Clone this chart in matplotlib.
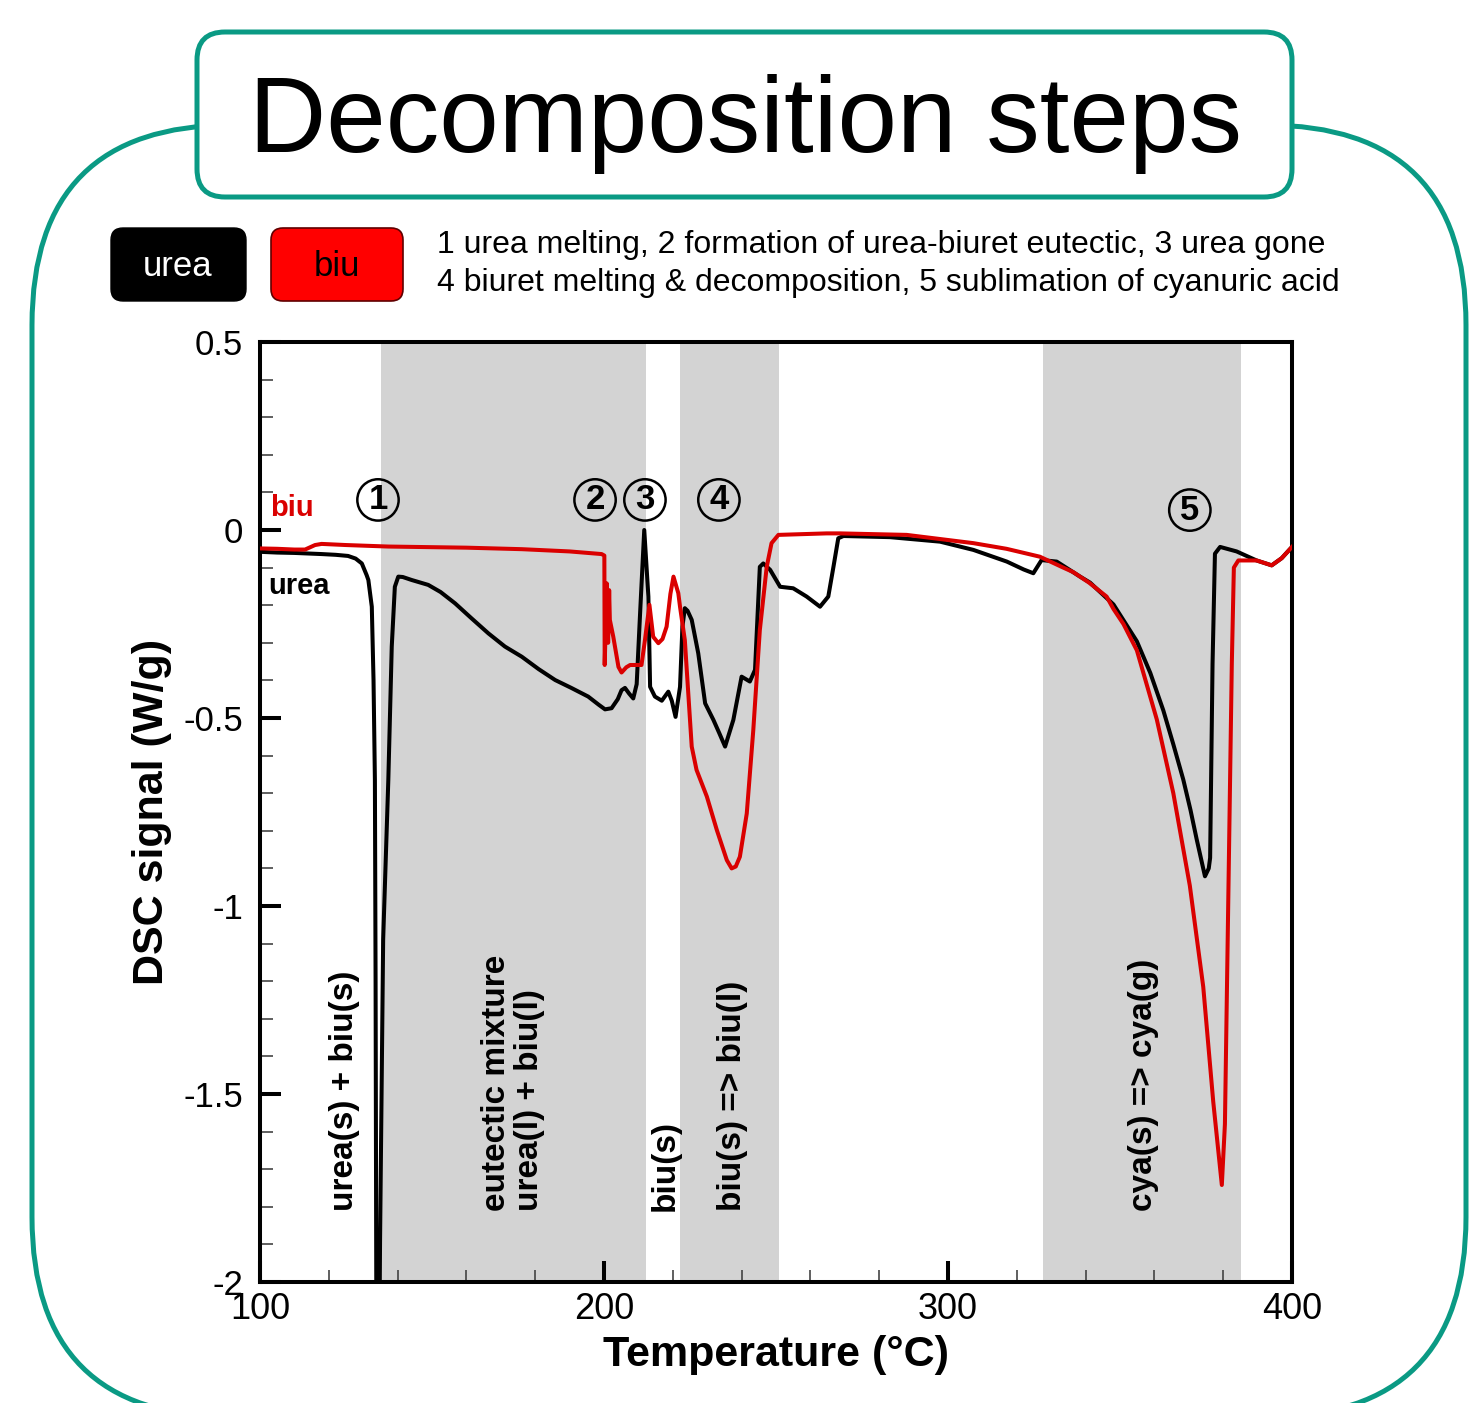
import matplotlib
matplotlib.use('Agg')
import matplotlib.pyplot as plt
from matplotlib.patches import FancyBboxPatch
from matplotlib.ticker import MultipleLocator

plt.rcParams['font.family'] = ['Liberation Sans', 'DejaVu Sans']

# urea DSC curve (temperature in C, signal in W/g)
urea_T = [100.0, 105, 110, 117.9, 122, 125.6, 127.8, 129.6, 131.0, 131.5, 132.5, 133.0,
          133.4, 133.6, 133.8, 134.0, 134.6, 134.9, 135.8, 137.3, 138.3, 139.2, 140.2,
          141.5, 144.1, 148.9, 152.5, 156.7, 161.5, 166.4, 171.2, 176.1, 181, 185.8,
          190.5, 195.4, 198.5, 200.3, 202.2, 204, 205.1, 206.1, 207.3, 208.5, 209.5,
          210.5, 211.7, 212.9, 213.4, 214.8, 216.8, 218.7, 219.7, 220.8, 222.1, 222.8,
          223.5, 224.3, 225.5, 227.4, 229.4, 231.8, 233.5, 235.2, 237.6, 240.0, 242.4,
          243.9, 245.3, 246.3, 248.3, 251.2, 255.0, 258.9, 262.8, 265.2, 266.7, 268.1,
          269.6, 283.1, 297.7, 307.4, 317.1, 322, 324.8, 327.2, 331.6, 338.4, 341.3,
          348.1, 354.9, 358.8, 362.6, 365.5, 368.4, 370.5, 372.3, 374.7, 375.8, 376.2,
          376.9, 377.6, 379.1, 383.9, 389.7, 394.1, 397, 400]
urea_y = [-0.058, -0.060, -0.061, -0.064, -0.066, -0.069, -0.076, -0.089, -0.120, -0.133,
          -0.204, -0.399, -0.665, -1.2, -2.0, -2.3, -2.3, -1.89, -1.09, -0.665, -0.31,
          -0.151, -0.124, -0.125, -0.133, -0.146, -0.165, -0.195, -0.235, -0.275, -0.31,
          -0.337, -0.37, -0.399, -0.42, -0.443, -0.465, -0.477, -0.474, -0.45, -0.426,
          -0.42, -0.435, -0.448, -0.41, -0.22, 0.0, -0.177, -0.417, -0.443, -0.454, -0.43,
          -0.454, -0.497, -0.417, -0.257, -0.208, -0.215, -0.239, -0.328, -0.461, -0.505,
          -0.54, -0.576, -0.505, -0.39, -0.403, -0.372, -0.098, -0.089, -0.106, -0.151,
          -0.155, -0.177, -0.204, -0.177, -0.098, -0.022, -0.016, -0.019, -0.031, -0.053,
          -0.084, -0.105, -0.115, -0.080, -0.084, -0.124, -0.14, -0.198, -0.296, -0.38,
          -0.480, -0.57, -0.664, -0.745, -0.823, -0.921, -0.90, -0.872, -0.357, -0.063,
          -0.045, -0.057, -0.081, -0.094, -0.075, -0.045]

# biuret DSC curve
biu_T = [100, 105, 110, 113.1, 116, 117.9, 125, 137.3, 160, 176.1, 190, 199.3, 200.1,
         200.2, 200.8, 201.2, 201.5, 201.7, 202.7, 204.2, 205.1, 206.5, 207.6, 210.9,
         211.9, 213.2, 214.3, 215.8, 217, 218.2, 219.3, 220.2, 221.6, 222.1, 223.5,
         224.0, 225.5, 226.9, 229.9, 232.8, 235.7, 237.1, 238.3, 239.5, 241.5, 243.4,
         245.3, 247.3, 248.7, 250.7, 264.7, 268.6, 288, 307.4, 317, 326.7, 333.5, 336.4,
         341, 346.1, 348.1, 351, 354.9, 360.7, 365.5, 370.3, 374.2, 377.1, 379.6, 380.5,
         381.5, 382.5, 383.1, 384.4, 389.7, 394.1, 397, 400]
biu_y = [-0.049, -0.050, -0.052, -0.052, -0.040, -0.037, -0.040, -0.044, -0.047, -0.051,
         -0.057, -0.064, -0.068, -0.359, -0.142, -0.30, -0.16, -0.239, -0.284, -0.364,
         -0.379, -0.365, -0.359, -0.359, -0.293, -0.199, -0.284, -0.301, -0.29, -0.257,
         -0.17, -0.124, -0.168, -0.204, -0.293, -0.364, -0.576, -0.638, -0.709, -0.798,
         -0.878, -0.900, -0.895, -0.869, -0.754, -0.532, -0.266, -0.098, -0.035, -0.013,
         -0.009, -0.009, -0.013, -0.035, -0.05, -0.071, -0.10, -0.112, -0.14, -0.177,
         -0.21, -0.25, -0.32, -0.504, -0.70, -0.946, -1.215, -1.52, -1.742, -1.58, -0.97,
         -0.357, -0.10, -0.081, -0.081, -0.094, -0.075, -0.045]

# shaded temperature ranges
spans = [(135.2, 212.2), (222.1, 250.9), (327.6, 385.2)]

# circled step numbers
step_labels = ['1', '2', '3', '4', '5']
step_T = [134.3, 197.4, 211.9, 233.4, 370.3]
step_y = [0.08, 0.08, 0.08, 0.08, 0.053]

# rotated phase labels
phase_labels = ['urea(s) + biu(s)', 'eutectic mixture\nurea(l) + biu(l)', 'biu(s)',
                'biu(s) => biu(l)', 'cya(s) => cya(g)']
phase_T = [124.7, 173.5, 217.9, 237.5, 356.7]

TEAL = '#0A9A84'
RED = '#DA0000'

fig = plt.figure(figsize=(14.7, 14.03), dpi=100)

# decoration layer in pixel coordinates
bg = fig.add_axes([0, 0, 1, 1])
bg.set_xlim(0, 1470)
bg.set_ylim(1403, 0)
bg.axis('off')
bg.add_patch(FancyBboxPatch((32, 125), 1434, 1292, boxstyle='round,pad=0,rounding_size=200',
                            fc='white', ec=TEAL, lw=3.6))
bg.add_patch(FancyBboxPatch((197, 32), 1095, 165, boxstyle='round,pad=0,rounding_size=28',
                            fc='white', ec=TEAL, lw=3.6))
bg.text(746, 124, 'Decomposition steps', fontsize=77, ha='center', va='center')
bg.add_patch(FancyBboxPatch((111, 228), 135, 73, boxstyle='round,pad=0,rounding_size=12',
                            fc='black', ec='black', lw=1))
bg.text(178, 266, 'urea', fontsize=25, color='white', ha='center', va='center')
bg.add_patch(FancyBboxPatch((271, 228), 132, 73, boxstyle='round,pad=0,rounding_size=12',
                            fc='#FF0000', ec='#600000', lw=1.2))
bg.text(337, 266, 'biu', fontsize=25, color='black', ha='center', va='center')
bg.text(437, 245, '1 urea melting, 2 formation of urea-biuret eutectic, 3 urea gone',
        fontsize=23, ha='left', va='center')
bg.text(437, 283, '4 biuret melting & decomposition, 5 sublimation of cyanuric acid',
        fontsize=23, ha='left', va='center')

# main chart
ax = fig.add_axes([260 / 1470, 1 - 1282 / 1403, 1032 / 1470, 940 / 1403])
for lo, hi in spans:
    ax.axvspan(lo, hi, color='#D3D3D3', lw=0, zorder=0)
ax.plot(urea_T, urea_y, color='black', lw=2.9, zorder=3)
ax.plot(biu_T, biu_y, color=RED, lw=2.9, zorder=4)

ax.set_xlim(100, 400)
ax.set_ylim(-2, 0.5)
ax.xaxis.set_major_locator(MultipleLocator(100))
ax.xaxis.set_minor_locator(MultipleLocator(20))
ax.yaxis.set_major_locator(MultipleLocator(0.5))
ax.yaxis.set_minor_locator(MultipleLocator(0.1))
ax.set_yticks([0.5, 0, -0.5, -1, -1.5, -2])
ax.set_yticklabels(['0.5', '0', '-0.5', '-1', '-1.5', '-2'])
ax.tick_params(which='major', direction='in', length=15, width=2.9)
ax.tick_params(which='minor', direction='in', length=9, width=1.2, color='#444444')
ax.tick_params(axis='y', which='major', pad=12, labelsize=25)
ax.tick_params(axis='x', which='major', pad=7, labelsize=26)
for sp in ax.spines.values():
    sp.set_linewidth(2.9)

ax.set_xlabel('Temperature (°C)', fontsize=31, fontweight='bold', labelpad=6)
ax.set_ylabel('DSC signal (W/g)', fontsize=31, fontweight='bold', labelpad=8)

for lab, t, y in zip(step_labels, step_T, step_y):
    ax.text(t, y, lab, fontsize=25, fontweight='bold', ha='center', va='center', zorder=5,
            bbox=dict(boxstyle='circle,pad=0.12', fc='none', ec='black', lw=1.8))

for lab, t in zip(phase_labels, phase_T):
    ax.text(t, -1.81, lab, fontsize=24, fontweight='bold', rotation=90, ha='center',
            va='bottom', multialignment='left', linespacing=1.1, zorder=5)

ax.text(103, 0.058, 'biu', fontsize=21, fontweight='bold', color=RED, ha='left', va='center')
ax.text(102.3, -0.149, 'urea', fontsize=21, fontweight='bold', color='black', ha='left', va='center')

fig.savefig('out.png', dpi=100)
